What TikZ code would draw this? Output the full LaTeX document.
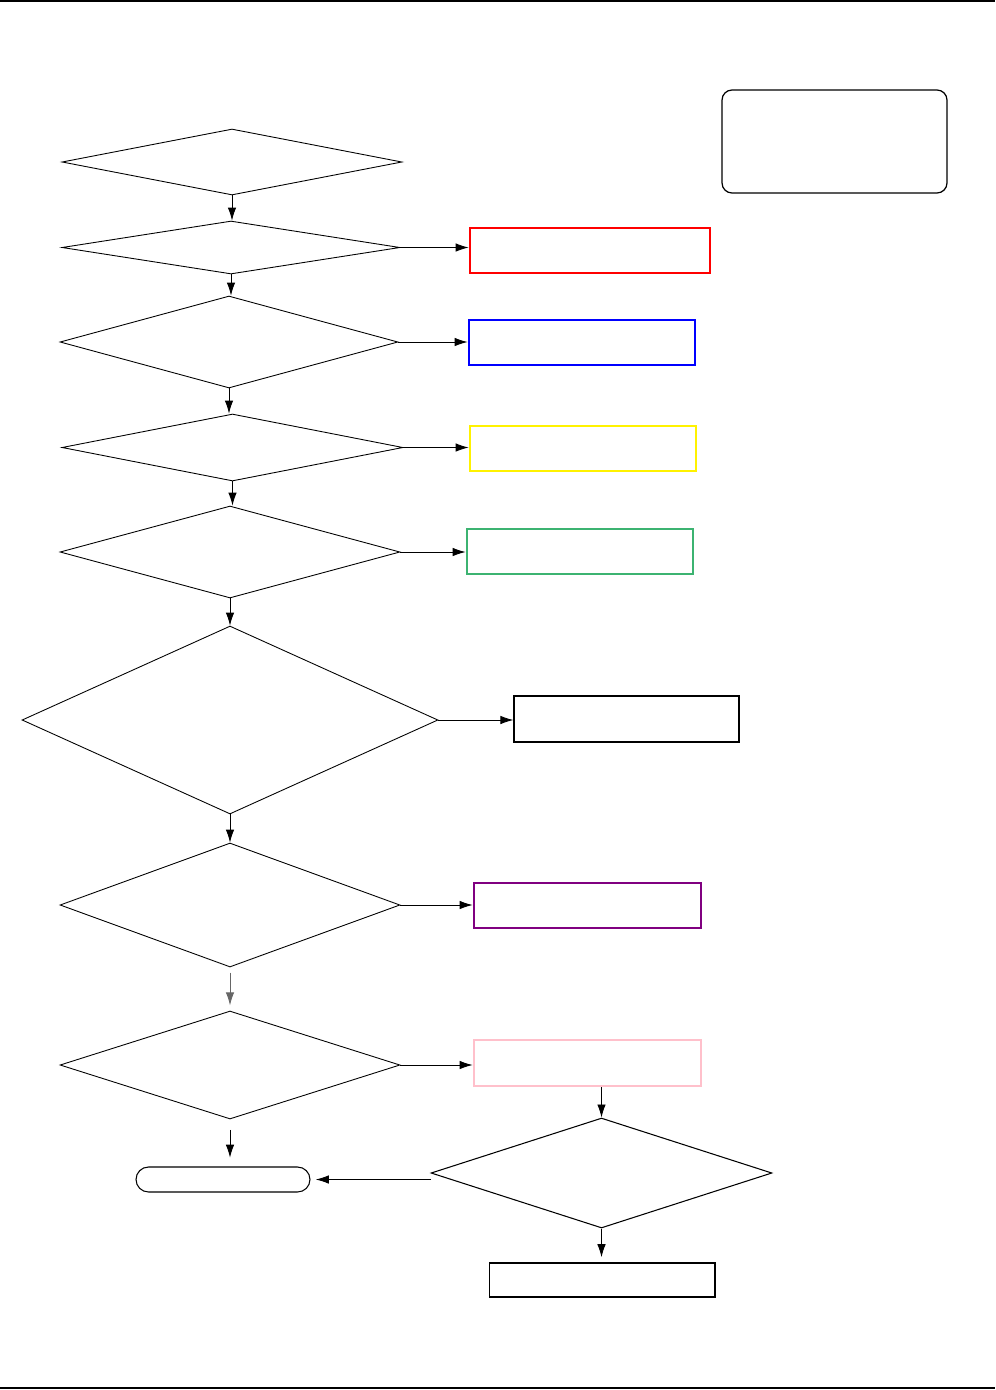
\documentclass[tikz,border=0pt]{standalone}
\usepackage{tikz}
\usetikzlibrary{calc}
\usetikzlibrary{shapes.geometric}
\usetikzlibrary{arrows.meta}
\definecolor{boxgreen}{RGB}{60,179,113}
\definecolor{boxpurple}{RGB}{128,0,128}
\definecolor{boxpink}{RGB}{255,192,203}
\begin{document}
\begin{tikzpicture}[x=0.02cm,y=-0.02cm,
        decision/.style={diamond,draw,line width=0.5pt,inner sep=0pt},
        action/.style={rectangle,draw,line width=1.6pt,inner sep=0pt,minimum width=4.52cm,minimum height=0.9cm},
        flow/.style={-{Latex[length=2.6mm,width=1.7mm]},line width=0.5pt}]
        \useasboundingbox (0,0) rectangle (995,1390);
        % page rules
        \draw[line width=0.9pt] (0,1) -- (995,1);
        \draw[line width=0.9pt] (0,1388) -- (995,1388);

        % legend
        \node[draw,line width=0.7pt,rounded corners=0.2cm,minimum width=4.5cm,minimum height=2.06cm] (legend) at (834.5,141.5) {};

        % left column
        \node[decision,minimum width=6.8cm,minimum height=1.32cm] (d1) at (232,162) {};
        \node[decision,minimum width=6.76cm,minimum height=1.06cm] (d2) at (231,247.5) {};
        \node[decision,minimum width=6.76cm,minimum height=1.84cm] (d3) at (229,342) {};
        \node[decision,minimum width=6.82cm,minimum height=1.34cm] (d4) at (232.5,447.5) {};
        \node[decision,minimum width=6.8cm,minimum height=1.84cm] (d5) at (230,552) {};
        \node[decision,minimum width=8.32cm,minimum height=3.76cm] (d6) at (230,720) {};
        \node[decision,minimum width=6.8cm,minimum height=2.48cm] (d7) at (230,905) {};
        \node[decision,minimum width=6.8cm,minimum height=2.16cm] (d8) at (230,1065) {};

        % right column
        \node[action,draw=red,minimum width=4.8cm] (red) at (590,250.5) {};
        \node[action,draw=blue] (blue) at (582,342.5) {};
        \node[action,draw=yellow] (yellow) at (583,448.5) {};
        \node[action,draw=boxgreen] (green) at (580,551.5) {};
        \node[action,draw=black,line width=0.7pt,minimum width=4.5cm,minimum height=0.92cm] (plain) at (626.5,719) {};
        \node[action,draw=boxpurple,minimum width=4.54cm] (purple) at (587.5,905.5) {};
        \node[action,draw=boxpink,minimum width=4.54cm,minimum height=0.92cm] (pink) at (587.5,1063) {};

        % bottom part
        \node[decision,line width=0.6pt,minimum width=6.82cm,minimum height=2.2cm] (d9) at (601.5,1173) {};
        \node[draw,line width=0.6pt,rounded corners=0.25cm,minimum width=3.48cm,minimum height=0.5cm] (stop) at (223,1179.5) {};
        \node[draw,line width=0.6pt,minimum width=4.52cm,minimum height=0.68cm] (last) at (602,1280) {};

        % down arrows
        \draw[flow] (d1.south) -- (d1.south |- d2.north);
        \draw[flow] (d2.south) -- (d2.south |- d3.north);
        \draw[flow] (d3.south) -- (d3.south |- d4.north);
        \draw[flow] (d4.south) -- (d4.south |- d5.north);
        \draw[flow] (d5.south) -- (d6.north);
        \draw[flow] (d6.south) -- (d7.north);
        \draw[flow,black!60,shorten <=3pt,shorten >=3pt] (d7.south) -- (d8.north);
        \draw[flow,shorten <=6pt,shorten >=5pt] (d8.south) -- (d8.south |- stop.north);
        \draw[flow] (pink.south -| d9.north) -- (d9.north);
        \draw[flow,shorten >=3pt] (d9.south) -- (last.north -| d9.south);

        % side arrows
        \draw[flow] (d2.east) -- (red.west |- d2.east);
        \draw[flow] (d3.east) -- (blue.west |- d3.east);
        \draw[flow] (d4.east) -- (yellow.west |- d4.east);
        \draw[flow] (d5.east) -- (green.west |- d5.east);
        \draw[flow] (d6.east) -- (plain.west |- d6.east);
        \draw[flow] (d7.east) -- (purple.west |- d7.east);
        \draw[flow] (d8.east) -- (pink.west |- d8.east);
        \draw[flow,shorten >=3pt] (d9.west |- stop.east) -- (stop.east);

    \end{tikzpicture}
\end{document}
